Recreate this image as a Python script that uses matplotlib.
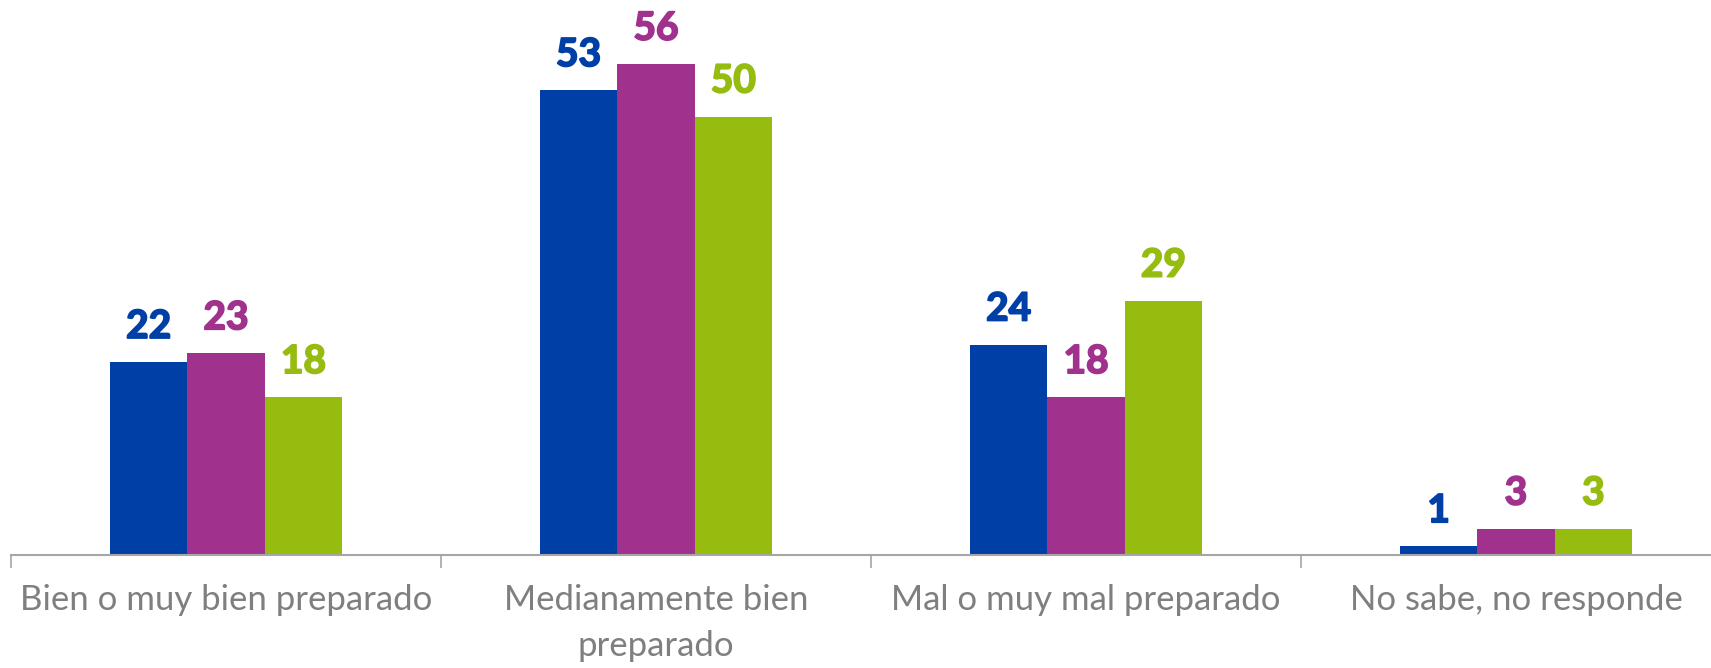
import matplotlib
matplotlib.use("Agg")
import matplotlib.pyplot as plt
import matplotlib.patheffects as pe
import numpy as np

categories = ["Bien o muy bien preparado", "Medianamente bien\npreparado",
              "Mal o muy mal preparado", "No sabe, no responde"]
serie_a = [22, 53, 24, 1]
serie_b = [23, 56, 18, 3]
serie_c = [18, 50, 29, 3]
colors = ["#003FA6", "#A0318D", "#97BC10"]

W, H = 1711, 668
fig = plt.figure(figsize=(W / 100, H / 100), dpi=100)
base_y = 555
left = 11
group_w = 430
ax = fig.add_axes([left / W, (H - base_y) / H, 4 * group_w / W, base_y / H])
ax.set_xlim(0, 4)
ax.set_ylim(0, base_y / 8.77)

x = np.arange(len(categories)) + 0.5
bw = 0.18
for i, (vals, c) in enumerate(zip([serie_a, serie_b, serie_c], colors)):
    xs = x + (i - 1) * bw
    ax.bar(xs, vals, width=bw, color=c, edgecolor="none", zorder=2)
    for xi, v in zip(xs, vals):
        ax.annotate(str(v), (xi, v), xytext=(0, 13), textcoords="offset points",
                    ha="center", va="bottom", fontsize=28, fontweight="bold",
                    color=c, family="Lato",
                    path_effects=[pe.withStroke(linewidth=1.3, foreground=c)])

for s in ["top", "right", "left"]:
    ax.spines[s].set_visible(False)
ax.spines["bottom"].set_color("#A6A6A6")
ax.spines["bottom"].set_linewidth(1.5)
ax.set_yticks([])
ax.set_xticks([0, 1, 2, 3, 4], minor=True)
ax.set_xticks(x)
ax.set_xticklabels(categories, fontsize=25, color="#7F7F7F", family="Lato",
                   linespacing=1.55)
ax.tick_params(axis="x", which="major", length=0, pad=21)
ax.tick_params(axis="x", which="minor", length=9, width=1.2, color="#A6A6A6")

fig.savefig("out.png", dpi=100)
